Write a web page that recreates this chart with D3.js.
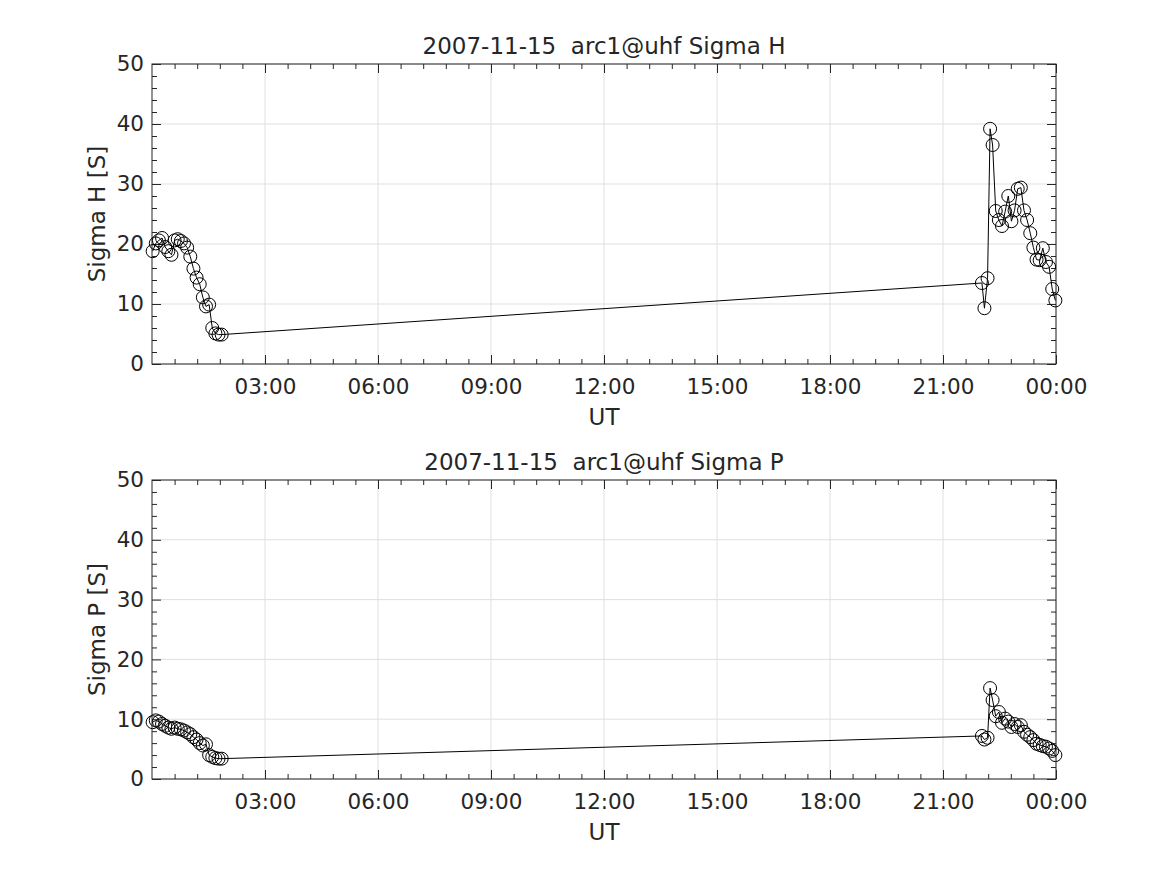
<!DOCTYPE html>
<html>
<head>
<meta charset="utf-8">
<title>Sigma H / Sigma P</title>
<script src="https://cdn.jsdelivr.net/npm/d3@7"></script>
<style>
  body { margin: 0; background: #fff; }
  text { font-family: "DejaVu Sans", sans-serif; fill: #262626; }
</style>
</head>
<body>
<script>

// minutes after 00:00 UT, 2007-11-15
var minutes = [1, 6, 11, 16, 21, 26, 31, 36, 41, 46, 51, 56, 61, 66, 71, 76, 81, 86, 91, 96, 101, 106, 111,
               1322, 1326, 1331, 1335, 1339, 1344, 1349, 1354, 1359, 1364, 1369, 1374, 1379, 1384, 1389,
               1394, 1399, 1404, 1409, 1414, 1419, 1424, 1429, 1434, 1439];

var sigmaH = [18.8, 20.1, 20.6, 21.0, 19.5, 18.8, 18.2, 20.6, 20.8, 20.5, 20.1, 19.4, 17.9, 15.9, 14.4, 13.3,
              11.1, 9.6, 9.9, 6.0, 5.1, 4.9, 4.9,
              13.5, 9.3, 14.3, 39.2, 36.5, 25.5, 24.0, 23.0, 25.4, 28.0, 23.8, 25.6, 29.2, 29.4, 25.6, 24.0,
              21.8, 19.4, 17.4, 17.3, 19.3, 17.0, 16.2, 12.5, 10.6];

var sigmaP = [9.5, 9.8, 9.6, 9.2, 8.9, 8.6, 8.4, 8.6, 8.4, 8.3, 8.1, 7.8, 7.5, 7.0, 6.6, 6.0,
              5.6, 5.8, 4.0, 3.7, 3.5, 3.4, 3.4,
              7.2, 6.6, 6.9, 15.2, 13.2, 10.5, 11.2, 9.4, 10.1, 9.6, 8.7, 9.2, 8.7, 9.0, 7.9, 7.4,
              7.0, 6.5, 5.9, 5.7, 5.5, 5.4, 5.1, 4.7, 4.0];

var xTickMinutes = [180, 360, 540, 720, 900, 1080, 1260, 1440];
var xTickLabels = ["03:00", "06:00", "09:00", "12:00", "15:00", "18:00", "21:00", "00:00"];
var yTicks = [0, 10, 20, 30, 40, 50];

var width = 1167, height = 875;
var left = 152, right = 1056;
var axColor = "#262626";

var svg = d3.select("body").append("svg")
    .attr("width", width)
    .attr("height", height);

var x = d3.scaleLinear().domain([0, 1440]).range([left, right]);

// minor ticks: 5 per 3 hours, 5 per 10 S
var xMinor = d3.range(0, 1441, 36).filter(function(m) { return m % 180 != 0; });
var yMinor = d3.range(0, 51, 2).filter(function(v) { return v % 10 != 0; });

function panel(top, bottom, values, title, ylabel) {
    var y = d3.scaleLinear().domain([0, 50]).range([bottom, top]);
    var g = svg.append("g");

    // grid
    g.selectAll(".vgrid").data(xTickMinutes).enter().append("line")
        .attr("x1", function(d) { return x(d); }).attr("x2", function(d) { return x(d); })
        .attr("y1", top).attr("y2", bottom)
        .attr("stroke", "#dfdfdf").attr("stroke-width", 1);
    g.selectAll(".hgrid").data(yTicks).enter().append("line")
        .attr("x1", left).attr("x2", right)
        .attr("y1", function(d) { return y(d); }).attr("y2", function(d) { return y(d); })
        .attr("stroke", "#dfdfdf").attr("stroke-width", 1);

    // axes, ticks pointing inward
    var xAxis = d3.axisBottom(x).tickValues(xTickMinutes)
        .tickFormat(function(d, i) { return xTickLabels[i]; })
        .tickSize(-9).tickPadding(15);
    var yAxis = d3.axisLeft(y).tickValues(yTicks).tickSize(-9).tickPadding(8);

    g.append("g").attr("transform", "translate(0," + bottom + ")").call(xAxis);
    g.append("g").attr("transform", "translate(" + left + ",0)").call(yAxis);
    g.append("g").attr("transform", "translate(0," + top + ")")
        .call(d3.axisTop(x).tickValues(xTickMinutes).tickSize(-9).tickFormat(""));
    g.append("g").attr("transform", "translate(" + right + ",0)")
        .call(d3.axisRight(y).tickValues(yTicks).tickSize(-9).tickFormat(""));

    g.append("g").attr("transform", "translate(0," + bottom + ")")
        .call(d3.axisBottom(x).tickValues(xMinor).tickSize(-5).tickFormat(""));
    g.append("g").attr("transform", "translate(0," + top + ")")
        .call(d3.axisTop(x).tickValues(xMinor).tickSize(-5).tickFormat(""));
    g.append("g").attr("transform", "translate(" + left + ",0)")
        .call(d3.axisLeft(y).tickValues(yMinor).tickSize(-5).tickFormat(""));
    g.append("g").attr("transform", "translate(" + right + ",0)")
        .call(d3.axisRight(y).tickValues(yMinor).tickSize(-5).tickFormat(""));

    g.selectAll(".domain").remove();
    g.selectAll(".tick line").attr("stroke", axColor);
    g.selectAll(".tick text").style("font-size", "21.5px").attr("fill", axColor);

    g.append("rect")
        .attr("x", left).attr("y", top)
        .attr("width", right - left).attr("height", bottom - top)
        .attr("fill", "none").attr("stroke", axColor).attr("stroke-width", 1);

    // data line and circle markers
    var pts = minutes.map(function(m, i) { return [m, values[i]]; });
    var line = d3.line()
        .x(function(d) { return x(d[0]); })
        .y(function(d) { return y(d[1]); });
    g.append("path").datum(pts)
        .attr("d", line)
        .attr("fill", "none").attr("stroke", "#000").attr("stroke-width", 1);
    g.selectAll(".pt").data(pts).enter().append("circle")
        .attr("cx", function(d) { return x(d[0]); })
        .attr("cy", function(d) { return y(d[1]); })
        .attr("r", 6.5)
        .attr("fill", "none").attr("stroke", "#000").attr("stroke-width", 1);

    // labels
    g.append("text")
        .attr("x", (left + right) / 2).attr("y", top - 10)
        .attr("text-anchor", "middle")
        .style("font-size", "23px")
        .style("white-space", "pre")
        .text(title);
    g.append("text")
        .attr("x", (left + right) / 2).attr("y", bottom + 61)
        .attr("text-anchor", "middle")
        .style("font-size", "23px")
        .text("UT");
    g.append("text")
        .attr("transform", "translate(105," + ((top + bottom) / 2) + ") rotate(-90)")
        .attr("text-anchor", "middle")
        .style("font-size", "23px")
        .text(ylabel);
}

panel(64, 364, sigmaH, "2007-11-15  arc1@uhf Sigma H", "Sigma H [S]");
panel(480, 779, sigmaP, "2007-11-15  arc1@uhf Sigma P", "Sigma P [S]");

</script>
</body>
</html>
